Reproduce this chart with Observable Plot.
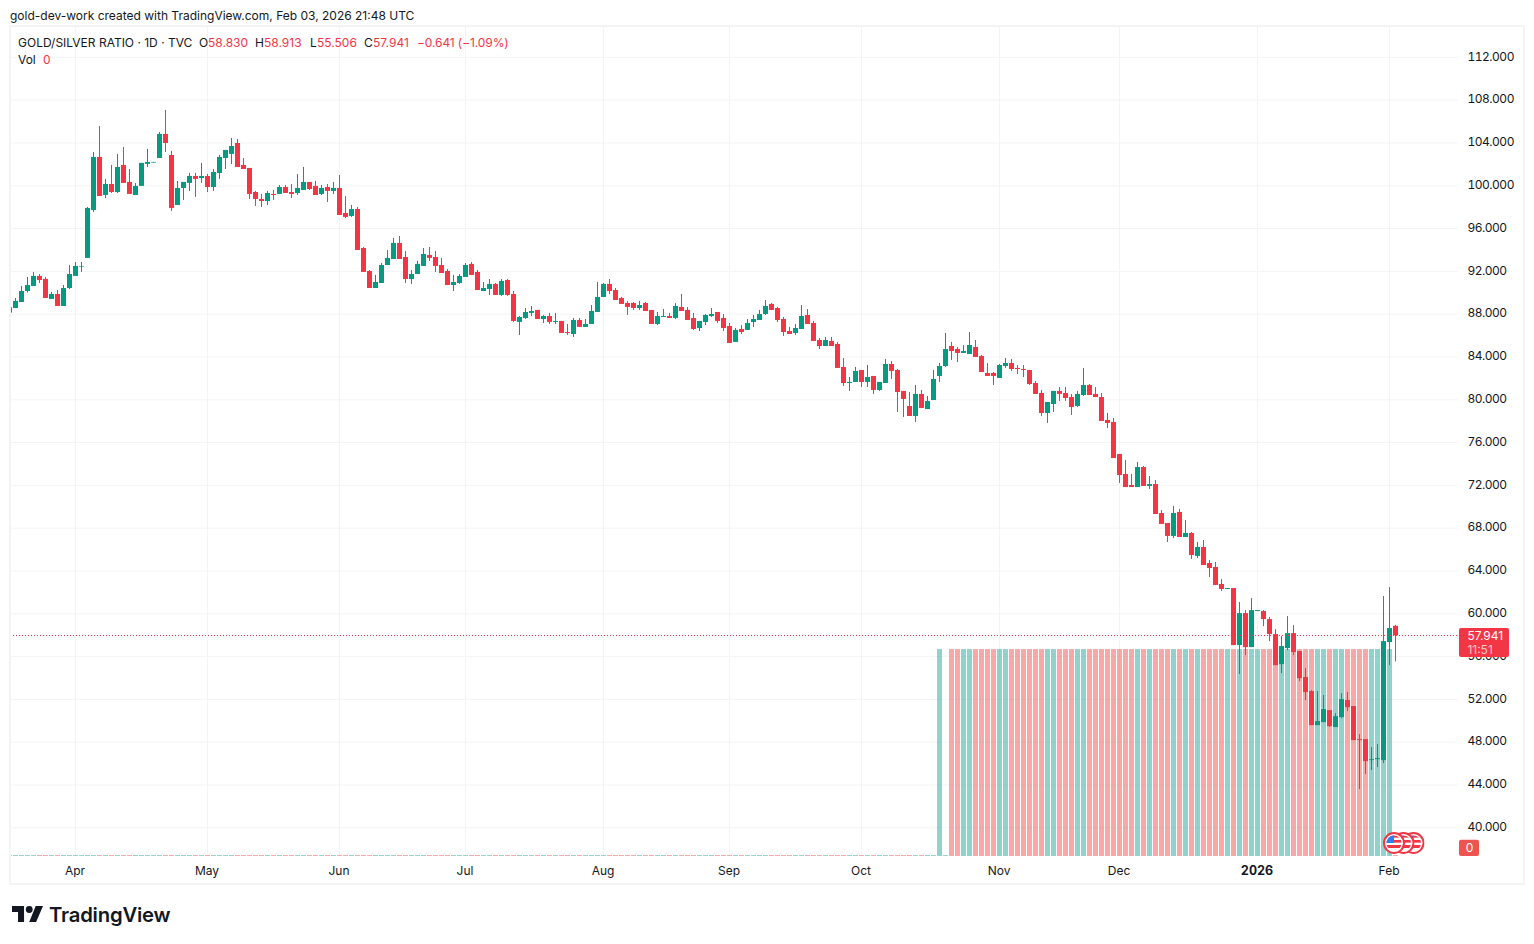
<!DOCTYPE html>
<html><head><meta charset="utf-8">
<script src="https://cdn.jsdelivr.net/npm/d3@7"></script>
<script src="https://cdn.jsdelivr.net/npm/@observablehq/plot@0.6"></script>
<style>
html,body{margin:0;padding:0;background:#fff;overflow:hidden}
body{width:1534px;height:944px;position:relative;font-family:Inter,"Liberation Sans",sans-serif;color:#131722;font-size:12px}
#credit{position:absolute;left:10px;top:8px;line-height:15px;white-space:nowrap}
#chart{position:absolute;left:0;top:26px}
#chart svg{display:block}
#chart svg g[aria-label="y-axis tick label"] text{letter-spacing:-.5px}
#frame{position:absolute;left:9px;top:25px;width:1512px;height:856px;border:2px solid #f3f4f6;pointer-events:none}
.leg{position:absolute;left:18px;white-space:nowrap;line-height:15px}
.leg span{position:absolute;top:0}
.r{color:#f23645}
#logo{position:absolute;left:12px;top:906px;display:flex;align-items:center}
#logo b{position:absolute;left:37px;top:-4px;font-size:20.3px;font-weight:600;letter-spacing:-.2px;line-height:26px}
</style></head><body>
<div id="credit">gold-dev-work created with TradingView.com, Feb 03, 2026 21:48 UTC</div>
<div id="chart"></div>
<div id="frame"></div>
<div class="leg" style="top:35px"><span style="left:0">GOLD/SILVER&nbsp;RATIO&nbsp;·&nbsp;1D&nbsp;·&nbsp;TVC</span>
<span style="left:181px">O</span><span class="r" style="left:190px">58.830</span>
<span style="left:237px">H</span><span class="r" style="left:246px">58.913</span>
<span style="left:292px">L</span><span class="r" style="left:299px">55.506</span>
<span style="left:346px">C</span><span class="r" style="left:355px">57.941</span>
<span class="r" style="left:399px;letter-spacing:-.1px">−0.641&nbsp;(−1.09%)</span></div>
<div class="leg" style="top:52px"><span style="left:0">Vol</span><span class="r" style="left:25px">0</span></div>
<div id="logo"><svg width="31" height="16" viewBox="0 0 36 18.5"><path fill="#131722" d="M14 18.5H7V7H0V0h14zM28 18.5h-8L27.5 0h8.5z"/><circle cx="20" cy="4" r="4" fill="#131722"/></svg><b>TradingView</b></div>
<script>
const opens=[88.10,88.53,89.09,90.12,90.59,91.53,91.25,89.37,89.84,88.72,90.40,91.53,92.40,93.21,97.69,102.65,99.09,100.12,99.37,101.90,100.31,99.09,99.94,102.00,102.12,102.55,104.80,102.83,98.16,99.75,100.22,100.87,100.68,100.87,99.84,101.15,102.55,102.93,103.95,101.90,101.62,99.37,98.72,98.53,99.19,99.19,99.84,99.37,99.28,99.56,100.31,99.94,99.19,99.84,99.47,99.75,97.41,97.13,97.78,94.14,91.99,90.40,90.87,92.55,93.11,94.61,93.30,91.24,91.71,92.46,93.49,93.30,92.55,91.99,90.68,90.87,91.43,92.65,91.90,90.12,90.31,90.78,89.75,91.15,89.84,87.23,87.60,88.07,88.35,87.50,87.78,87.23,87.32,86.29,86.10,87.41,86.76,87.04,88.16,89.56,90.78,90.21,89.47,89.00,89.00,88.53,89.00,88.35,87.04,87.69,87.78,87.60,88.63,88.35,87.60,86.66,87.22,87.78,88.16,87.60,86.85,85.36,86.57,86.48,87.22,87.41,87.97,88.91,88.53,87.50,86.38,86.20,86.57,87.88,87.13,85.54,84.98,85.45,85.17,83.02,81.52,81.62,82.74,81.62,82.18,80.87,81.52,83.30,82.74,80.78,79.37,78.44,80.50,79.09,79.93,82.18,83.11,84.98,84.70,84.33,84.23,84.89,84.05,82.46,82.46,81.99,83.11,83.39,82.93,82.83,82.74,81.52,80.59,78.72,79.56,80.78,80.59,80.21,79.37,80.40,81.34,80.50,80.21,78.07,77.88,74.89,73.02,71.99,71.80,73.67,71.90,72.08,69.37,68.44,67.23,69.47,67.13,67.51,65.36,66.20,64.70,64.33,62.74,62.27,62.36,57.03,60.02,56.84,60.21,60.21,59.46,58.06,55.25,56.75,58.15,56.47,54.04,52.73,49.55,49.83,50.95,49.37,50.30,51.89,51.33,48.24,48.24,46.28,46.37,46.28,57.31,58.83];
const highs=[88.60,89.47,90.59,91.43,91.90,91.71,91.43,90.03,90.22,90.68,92.55,92.83,92.83,97.97,103.11,105.54,100.59,101.90,102.93,103.58,101.52,100.22,102.09,103.39,102.18,104.98,107.04,103.21,100.40,100.31,101.15,101.15,102.09,101.06,101.52,102.83,103.30,104.42,104.33,102.55,101.62,99.47,99.19,99.47,99.56,100.03,100.03,100.12,101.06,101.71,100.31,100.40,100.03,100.12,100.31,100.96,98.99,98.16,97.97,94.23,92.08,91.62,92.74,93.95,95.07,95.26,93.86,92.08,92.93,94.14,94.23,93.86,93.21,92.18,91.62,91.71,92.74,92.83,92.08,90.96,91.24,90.87,91.24,91.24,90.12,87.78,88.53,88.72,88.35,87.88,88.07,88.07,87.32,87.04,87.60,87.60,87.50,88.81,90.96,90.87,91.24,90.40,89.56,89.19,89.09,89.19,89.09,88.35,88.16,88.44,88.07,88.99,89.84,88.63,88.07,87.32,87.97,88.53,88.16,87.97,87.13,86.66,86.94,87.50,87.88,88.35,89.28,89.00,88.63,87.69,86.76,87.04,88.81,88.44,87.32,85.73,85.82,85.82,85.36,83.86,82.08,83.02,82.74,83.20,82.18,81.62,83.77,83.58,82.83,80.78,80.68,81.34,80.87,80.31,82.74,83.39,86.20,85.36,84.89,85.07,86.29,85.54,84.14,83.39,82.55,83.30,83.86,83.77,83.20,83.20,82.74,81.71,80.87,79.75,80.78,81.15,81.15,80.50,80.78,82.93,81.43,81.15,80.59,78.72,78.25,74.89,74.33,73.02,74.14,73.77,72.83,72.46,69.65,68.44,70.03,69.75,68.72,67.60,66.66,66.85,64.98,64.80,63.21,62.36,62.36,61.05,60.30,61.42,60.30,60.30,59.65,58.52,57.87,59.74,58.90,56.47,54.88,52.82,52.73,52.36,50.95,50.67,52.54,52.64,51.33,48.71,48.24,47.50,47.78,61.61,62.45,58.913];
const lows=[88.10,88.53,89.09,89.97,90.59,90.87,89.47,89.37,88.72,88.72,90.31,91.53,91.90,93.21,97.51,99.00,98.81,99.28,99.28,100.22,99.19,99.09,99.94,101.71,102.12,102.55,103.11,97.60,98.16,98.63,99.47,98.91,100.22,99.37,99.47,100.59,101.52,101.99,101.71,101.52,98.72,98.07,97.97,98.16,98.63,99.19,99.28,98.81,99.09,99.56,99.56,99.09,99.09,98.44,99.19,97.22,96.94,97.04,93.95,91.90,90.40,90.40,90.87,92.55,93.11,93.11,90.87,90.78,91.71,92.46,92.93,91.90,91.80,90.68,90.12,90.78,91.43,91.62,90.21,90.12,89.75,89.75,89.66,89.66,87.23,86.01,87.50,87.78,87.50,87.13,87.04,87.04,86.20,86.01,85.82,86.76,86.76,87.04,88.16,89.56,89.84,89.28,88.91,87.88,88.35,88.35,88.25,87.04,86.94,87.69,87.60,87.50,88.25,87.41,86.48,86.38,86.94,87.69,87.13,86.38,85.26,85.36,86.10,86.48,86.76,87.41,87.88,88.35,87.22,85.92,86.10,86.01,86.57,87.04,85.45,84.70,84.98,84.98,82.93,81.24,80.78,81.62,81.15,81.15,80.50,80.78,81.52,81.90,78.81,78.35,78.44,77.88,79.19,79.09,79.93,81.62,83.02,83.67,83.49,84.33,84.23,83.95,82.55,82.18,81.34,81.99,82.93,82.65,82.36,82.08,81.34,80.50,78.44,77.79,78.81,79.84,79.84,78.53,79.28,80.31,80.40,80.21,77.97,77.32,74.51,72.18,71.80,71.80,71.80,71.90,71.62,69.28,68.35,66.66,67.04,67.13,67.13,65.07,65.17,64.51,63.39,62.65,62.08,62.27,57.03,54.32,56.09,56.84,60.21,58.80,57.40,55.16,54.41,56.56,56.09,53.66,51.89,49.55,49.55,49.83,49.37,49.37,50.20,50.86,48.15,43.57,44.97,45.35,45.63,46.00,55.16,55.506];
const closes=[88.60,89.19,90.12,90.68,91.53,91.15,89.47,89.84,88.72,90.40,91.71,92.46,92.46,97.88,102.65,99.00,100.12,99.37,101.71,100.22,99.19,99.94,102.09,102.18,102.18,104.80,103.95,97.88,99.75,100.31,100.87,100.59,100.87,99.84,101.24,102.65,103.30,103.67,101.71,101.52,99.19,98.72,98.53,99.28,99.09,99.84,99.28,99.19,99.75,100.31,99.65,99.09,99.75,99.47,99.75,97.22,97.04,97.78,93.95,91.90,90.40,90.96,92.55,93.21,94.61,93.11,91.24,91.71,92.65,93.58,93.21,92.46,91.80,90.68,90.96,91.52,92.55,91.62,90.21,90.40,90.78,89.75,91.06,89.75,87.32,87.69,88.16,88.25,87.50,87.78,87.23,87.32,86.20,86.20,87.41,86.76,87.04,88.25,89.56,90.78,90.12,89.28,88.91,88.63,88.53,88.81,88.25,87.04,87.78,87.78,87.60,88.72,88.25,87.41,86.57,87.32,87.88,87.97,87.32,86.66,85.26,86.48,86.29,87.13,87.50,87.97,88.72,88.35,87.41,86.29,86.10,86.66,87.78,87.04,85.45,84.98,85.54,84.98,82.93,81.52,81.62,82.65,81.62,82.08,80.87,81.62,83.30,82.65,80.68,80.03,78.44,80.50,79.19,79.84,81.90,83.11,84.70,84.51,84.33,84.51,85.07,83.95,82.55,82.18,82.18,83.20,83.39,82.83,82.83,82.74,81.43,80.50,78.72,79.75,80.78,80.50,80.12,79.28,80.50,81.34,80.40,80.21,77.97,77.79,74.51,72.92,71.80,71.80,73.67,71.90,72.08,69.28,68.35,67.23,69.37,67.13,67.51,65.45,66.20,64.51,64.23,62.65,62.27,62.36,57.03,60.02,56.84,60.30,60.30,59.46,58.06,55.16,56.94,58.15,56.38,53.94,52.64,49.55,49.93,51.05,49.46,50.39,51.98,51.23,48.15,48.15,46.19,46.37,46.47,57.40,58.62,57.941];
const volumes=[0,0,0,0,0,0,0,0,0,0,0,0,0,0,0,0,0,0,0,0,0,0,0,0,0,0,0,0,0,0,0,0,0,0,0,0,0,0,0,0,0,0,0,0,0,0,0,0,0,0,0,0,0,0,0,0,0,0,0,0,0,0,0,0,0,0,0,0,0,0,0,0,0,0,0,0,0,0,0,0,0,0,0,0,0,0,0,0,0,0,0,0,0,0,0,0,0,0,0,0,0,0,0,0,0,0,0,0,0,0,0,0,0,0,0,0,0,0,0,0,0,0,0,0,0,0,0,0,0,0,0,0,0,0,0,0,0,0,0,0,0,0,0,0,0,0,0,0,0,0,0,0,0,0,0,1,0,1,1,1,1,1,1,1,1,1,1,1,1,1,1,1,1,1,1,1,1,1,1,1,1,1,1,1,1,1,1,1,1,1,1,1,1,1,1,1,1,1,1,1,1,1,1,1,1,1,1,1,1,1,1,1,1,1,1,1,1,1,1,1,1,1,1,1,1,1,1,1,1,1,1,0];
const monthTicks=[11,33,55,76,99,120,142,165,185,208,230];
const monthLabels=["Apr","May","Jun","Jul","Aug","Sep","Oct","Nov","Dec","2026","Feb"];
const priceTicks=[40,44,48,52,56,60,64,68,72,76,80,84,88,92,96,100,104,108,112];
const lastPrice=57.941, countdown="11:51", lastVolume=0;
const UP="#089981",DOWN="#f23645",VUP="#26a69a",VDOWN="#ef5350",GRID="#f3f4f6",INK="#131722";
const yLo=37.32,yHi=114.79,volTop=56.66;
const volPrice=v=>v?volTop:yLo+0.09;
const halfBar=2.5/6;
const bars=opens.map((o,i)=>({i,o,h:highs[i],l:lows[i],c:closes[i],v:volumes[i],up:closes[i]>=o}));
const off=window.devicePixelRatio>1?0:-0.5;
const flagSrc="data:image/svg+xml,"+encodeURIComponent(`<svg xmlns="http://www.w3.org/2000/svg" viewBox="0 0 22 22"><defs><clipPath id="c"><circle cx="11" cy="11" r="7.6"/></clipPath></defs><circle cx="11" cy="11" r="10" fill="#fff" stroke="#f23645" stroke-width="2"/><g clip-path="url(#c)"><rect width="22" height="22" fill="#fff"/><rect y="3" width="22" height="2.6" fill="#f23645"/><rect y="8" width="22" height="2.6" fill="#f23645"/><rect y="13" width="22" height="3" fill="#f23645"/><rect x="3" y="3" width="8" height="8" fill="#2d7ff0"/></g></svg>`);
const flags=[{i:233.92},{i:232.25},{i:230.67}];
const chart=Plot.plot({
  width:1534,height:858,marginLeft:10,marginRight:76,marginTop:1,marginBottom:28,
  style:{fontFamily:'Inter,"Liberation Sans",sans-serif',fontSize:"12px",color:INK,background:"transparent",overflow:"visible"},
  x:{type:"linear",domain:[0.5/6,1448.5/6],range:[10,1458],axis:null},
  y:{type:"linear",domain:[yLo,yHi],axis:null},
  marks:[
    Plot.ruleY(priceTicks,{stroke:GRID,strokeWidth:1}),
    Plot.ruleX(monthTicks,{stroke:GRID,strokeWidth:1,dx:off}),
    Plot.rect(bars,{x1:d=>d.i-halfBar,x2:d=>d.i+halfBar,y1:yLo,y2:d=>volPrice(d.v),fill:d=>d.up?VUP:VDOWN,fillOpacity:.5,clip:true}),
    Plot.ruleX(bars,{x:"i",y1:"l",y2:"h",stroke:d=>d.up?UP:DOWN,strokeWidth:1,dx:off,clip:true}),
    Plot.rect(bars,{x1:d=>d.i-halfBar,x2:d=>d.i+halfBar,y1:d=>Math.min(d.o,d.c),y2:d=>Math.max(d.o,d.c),fill:d=>d.up?UP:DOWN,clip:true}),
    Plot.ruleY([lastPrice],{stroke:DOWN,strokeWidth:1,strokeDasharray:"1,2",dy:-0.34}),
    Plot.axisY(priceTicks,{anchor:"right",tickSize:0,tickPadding:0,dx:9,dy:-0.6,textAnchor:"start",tickFormat:d3.format(".3f"),fontSize:12,fill:INK,label:null}),
    Plot.axisX(monthTicks.filter((_,k)=>monthLabels[k]!=="2026"),{anchor:"bottom",tickSize:0,tickPadding:10,dx:-1,tickFormat:d=>monthLabels[monthTicks.indexOf(d)],fontSize:12,fill:INK,label:null}),
    Plot.axisX(monthTicks.filter((_,k)=>monthLabels[k]==="2026"),{anchor:"bottom",tickSize:0,tickPadding:10,dx:-1,tickFormat:d=>monthLabels[monthTicks.indexOf(d)],fontSize:12.5,fontWeight:700,fill:INK,label:null}),
    Plot.rect([lastPrice],{x1:241.58,x2:249.92,y1:55.92,y2:58.63,fill:DOWN,rx:2}),
    Plot.text([lastPrice],{x:242.9,y:lastPrice,text:d=>d3.format(".3f")(d),fill:"#fff",fontSize:12,textAnchor:"start"}),
    Plot.text([countdown],{x:242.9,y:56.6,text:d=>d,fill:"#fff",fillOpacity:.72,fontSize:12,textAnchor:"start"}),
    Plot.rect([lastVolume],{x1:241.58,x2:244.92,y1:yLo,y2:38.83,fill:VDOWN,rx:2}),
    Plot.text([lastVolume],{x:243.25,y:38.08,text:d=>String(d),fill:"#fff",fontSize:12}),
    Plot.image(flags,{x:"i",y:38.58,width:22,height:22,src:()=>flagSrc})
  ]
});
document.getElementById("chart").appendChild(chart);
</script>
</body></html>
